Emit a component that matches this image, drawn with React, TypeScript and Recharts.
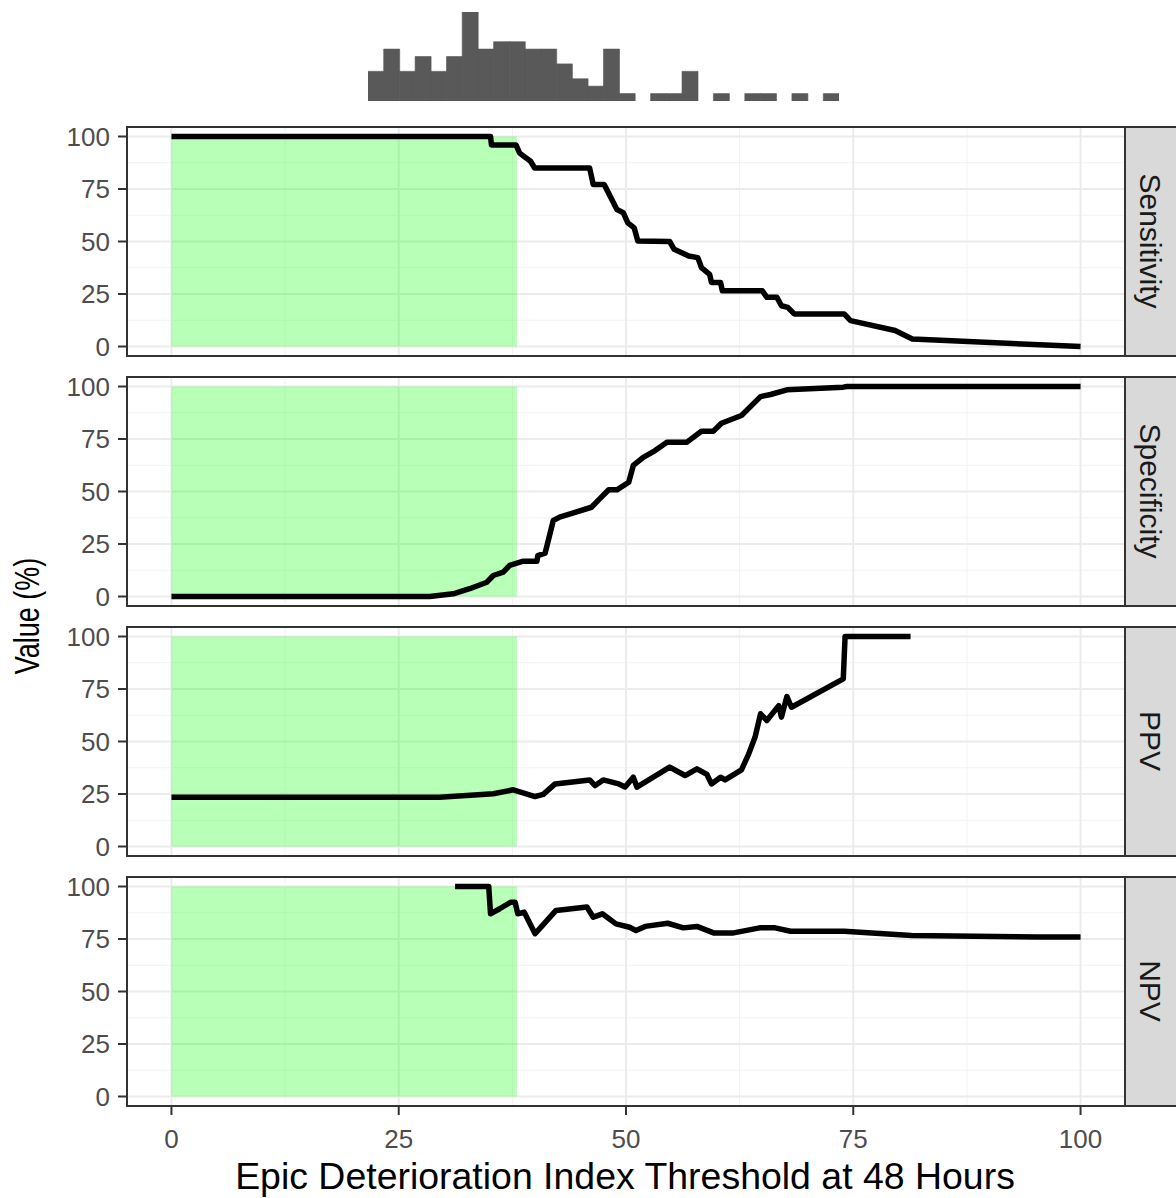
import React from 'react'
import {
  LineChart, Line, XAxis, YAxis, CartesianGrid, ReferenceArea,
  BarChart, Bar
} from 'recharts'

// threshold histogram (counts per bin, left to right)
const histCounts = [4, 7, 4, 6, 4, 6, 12, 7, 8, 8, 7, 7, 5, 3, 2, 7, 1, 0, 1, 1, 4, 0, 1, 0, 1, 1, 0, 1, 0, 1]

const sensX = [0, 35.1, 35.2, 37.9, 38.3, 39.5, 39.95, 46.0, 46.4, 47.6, 49.0, 49.7, 50.2, 50.9, 51.3, 54.8, 55.3, 56.9, 57.9, 58.3, 59.2, 59.4, 60.4, 60.6, 65.0, 65.5, 66.6, 67.1, 67.8, 68.5, 74.0, 74.7, 79.6, 81.5, 85.2, 100]
const sensY = [100, 100, 96, 96, 92.1, 88.2, 85, 85, 77.1, 77.1, 65.2, 63.7, 58.9, 56.5, 50.2, 50, 46.3, 43.1, 42.3, 37.6, 34.4, 30.5, 30.5, 26.5, 26.5, 23.4, 23.4, 19.4, 18.6, 15.5, 15.5, 12.3, 7.6, 3.6, 2.8, 0]

const specX = [0, 28.4, 31.0, 32.8, 34.7, 35.4, 36.5, 37.2, 38.7, 40.2, 40.3, 41.1, 42.0, 42.7, 46.2, 47.1, 48.1, 49.0, 50.3, 50.8, 51.9, 53.2, 54.5, 56.7, 58.3, 59.6, 60.5, 62.7, 64.8, 65.9, 67.7, 73.9, 74.3, 100]
const specY = [0, 0, 1.3, 3.7, 6.8, 10, 11.6, 14.8, 16.8, 16.8, 19.5, 20.6, 36.2, 37.8, 42.5, 46.5, 50.8, 50.8, 54.4, 62.4, 66.3, 69.5, 73.5, 73.5, 78.7, 78.7, 82.5, 86.2, 95.2, 96.2, 98.4, 99.7, 100, 100]

const ppvX = [0, 29.5, 35.4, 37.6, 40.0, 40.9, 42.2, 46.0, 46.6, 47.5, 49.2, 49.9, 50.8, 51.2, 53.0, 54.8, 56.5, 57.8, 58.9, 59.4, 60.4, 60.9, 62.7, 63.5, 64.2, 64.8, 65.5, 66.8, 67.1, 67.7, 68.2, 73.9, 74.1, 81.3]
const ppvY = [23.5, 23.5, 25.1, 27.0, 23.8, 24.8, 29.8, 31.7, 29.0, 31.7, 29.8, 28.3, 33.0, 28.3, 33.0, 37.8, 33.8, 37.0, 34.3, 29.8, 33.0, 31.7, 36.5, 44.1, 52.1, 63.2, 60.0, 67.1, 61.6, 71.4, 66.3, 79.8, 100, 100]

const npvX = [31.2, 34.9, 35.1, 36.1, 37.3, 37.8, 38.1, 38.8, 40.0, 40.8, 42.3, 45.7, 46.4, 47.4, 48.9, 50.4, 51.1, 52.1, 54.6, 56.3, 57.8, 59.7, 61.7, 64.7, 66.4, 68.1, 74.0, 81.4, 95.2, 100]
const npvY = [100, 100, 87, 89.4, 92.5, 92.5, 87, 87.8, 77.5, 81.4, 88.6, 90.2, 85.4, 87, 82.2, 80.6, 79.0, 81.0, 82.5, 80.3, 81.0, 77.8, 77.8, 80.3, 80.3, 78.7, 78.7, 76.7, 75.9, 75.9]

const metrics = ['Sensitivity', 'Specificity', 'PPV', 'NPV']
const seriesX = [sensX, specX, ppvX, npvX]
const seriesY = [sensY, specY, ppvY, npvY]

const ticks = [0, 25, 50, 75, 100]
const minorTicks = [12.5, 37.5, 62.5, 87.5]
const zoneStart = 0
const zoneEnd = 38

const FONT = '"Liberation Sans", Arial, sans-serif'
const PLOT_LEFT = 126
const PLOT_W = 1000
const PANEL_H = 231
const PAD = 16 // room above/below each panel so tick labels are not clipped
const PANEL_TOPS = [125.5, 375.5, 625.5, 875.5]

const tickStyle = { fill: '#4d4d4d', fontSize: 26, fontFamily: FONT }

function Panel({ index }: { index: number }) {
  const data = seriesX[index].map((x, i) => ({ x, y: seriesY[index][i] }))
  const last = index === 3
  return (
    <div style={{ position: 'absolute', left: 0, top: PANEL_TOPS[index] - PAD }}>
      <LineChart
        width={PLOT_LEFT + PLOT_W}
        height={PANEL_H + 2 * PAD + (last ? 60 : 0)}
        margin={{ top: PAD, right: 0, bottom: last ? 0 : PAD, left: 0 }}
      >
        <CartesianGrid horizontalValues={minorTicks} verticalValues={minorTicks} stroke="#f2f2f2" strokeWidth={1} />
        <CartesianGrid horizontalValues={ticks} verticalValues={ticks} stroke="#ebebeb" strokeWidth={2} />
        <XAxis
          dataKey="x" type="number" domain={[-5, 105]} ticks={ticks} allowDataOverflow
          hide={!last} height={last ? 60 + PAD : 0} axisLine={false}
          tickLine={{ stroke: '#333333', strokeWidth: 2 }} tickSize={8} tickMargin={15}
          tick={tickStyle} interval={0}
        />
        <YAxis
          type="number" domain={[-5, 105]} ticks={ticks} allowDataOverflow width={PLOT_LEFT}
          axisLine={false} tickLine={{ stroke: '#333333', strokeWidth: 2 }} tickSize={8} tickMargin={8}
          tick={tickStyle} interval={0}
        />
        <ReferenceArea x1={zoneStart} x2={zoneEnd} y1={0} y2={100} fill="#00ff00" fillOpacity={0.28} stroke="none" />
        <Line data={data} dataKey="y" type="linear" stroke="#000000" strokeWidth={5.5} dot={false} isAnimationActive={false} strokeLinejoin="round" />
      </LineChart>
      <div style={{
        position: 'absolute', left: PLOT_LEFT, top: PAD, width: PLOT_W, height: PANEL_H,
        border: '2px solid #333333', boxSizing: 'border-box', pointerEvents: 'none'
      }} />
      <div style={{
        position: 'absolute', left: PLOT_LEFT + PLOT_W - 2, top: PAD, width: 60, height: PANEL_H,
        background: '#d9d9d9', border: '2px solid #333333', boxSizing: 'border-box',
        display: 'flex', alignItems: 'center', justifyContent: 'center'
      }}>
        <div style={{ transform: 'rotate(90deg)', whiteSpace: 'nowrap', fontFamily: FONT, fontSize: 30, color: '#1a1a1a', marginLeft: -8 }}>
          {metrics[index]}
        </div>
      </div>
    </div>
  )
}

export default function App() {
  const histData = histCounts.map((count, i) => ({ bin: i, count }))
  return (
    <div style={{ position: 'absolute', left: 0, top: 0, width: 1176, height: 1198, background: '#ffffff', overflow: 'hidden' }}>
      <div style={{ position: 'absolute', left: 368, top: 12 }}>
        <BarChart width={471} height={89} data={histData} margin={{ top: 0, right: 0, bottom: 0, left: 0 }} barCategoryGap={0} barGap={0}>
          <XAxis dataKey="bin" hide />
          <YAxis domain={[0, 12]} hide />
          <Bar dataKey="count" fill="#595959" stroke="#595959" strokeWidth={0.6} isAnimationActive={false} />
        </BarChart>
      </div>
      {metrics.map((m, i) => <Panel key={m} index={i} />)}
      <div style={{
        position: 'absolute', left: 28, top: 616, transform: 'translate(-50%,-50%) rotate(-90deg) scale(1,1.3)',
        whiteSpace: 'nowrap', fontFamily: FONT, fontSize: 27, color: '#000'
      }}>
        Value (%)
      </div>
      <div style={{
        position: 'absolute', left: 625, top: 1176, transform: 'translate(-50%,-50%) scale(1.04,1.05)',
        whiteSpace: 'nowrap', fontFamily: FONT, fontSize: 36, color: '#000'
      }}>
        Epic Deterioration Index Threshold at 48 Hours
      </div>
    </div>
  )
}
